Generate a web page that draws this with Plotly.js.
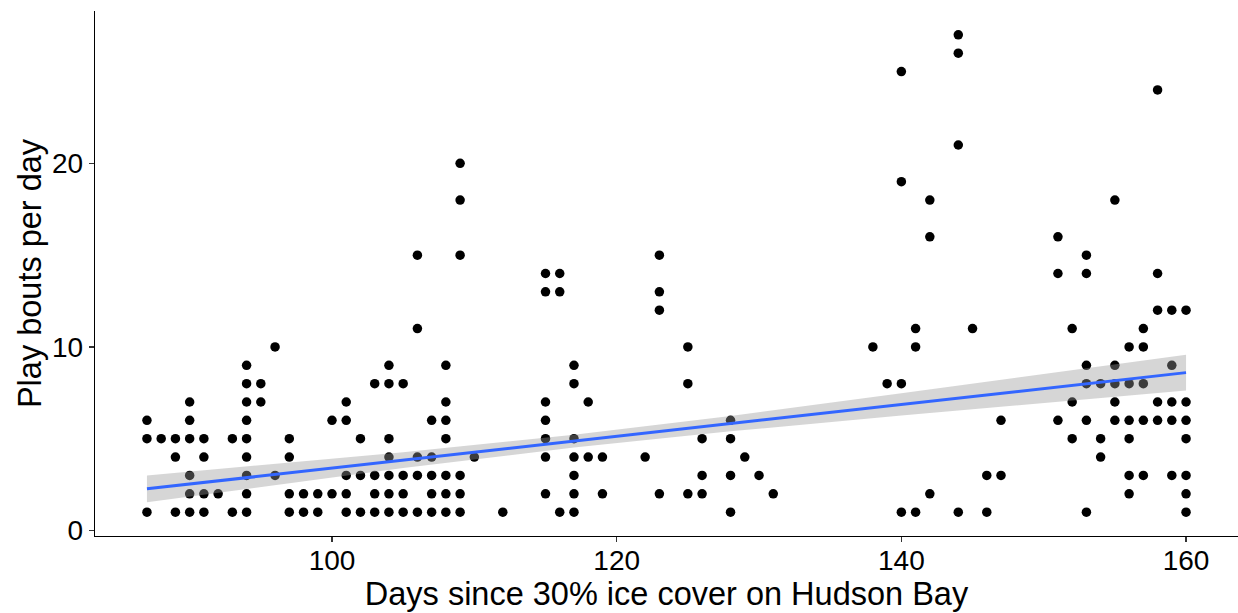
<!DOCTYPE html>
<html>
<head>
<meta charset="utf-8">
<script src="https://cdn.plot.ly/plotly-3.0.1.min.js"></script>
<style>
  html, body { margin: 0; padding: 0; background: #ffffff; }
  #chart { width: 1238px; height: 613px; }
</style>
</head>
<body>
<div id="chart"></div>
<script>
// Days since 30% ice cover on Hudson Bay, one entry per observed day
const days = [
  87, 87, 87,
  88,
  89, 89, 89,
  90, 90, 90, 90, 90, 90,
  91, 91, 91, 91,
  92,
  93, 93,
  94, 94, 94, 94, 94, 94, 94, 94, 94,
  95, 95,
  96, 96,
  97, 97, 97, 97,
  98, 98,
  99, 99,
  100, 100,
  101, 101, 101, 101, 101,
  102, 102, 102,
  103, 103, 103, 103,
  104, 104, 104, 104, 104, 104, 104,
  105, 105, 105, 105,
  106, 106, 106, 106, 106,
  107, 107, 107, 107, 107,
  108, 108, 108, 108, 108, 108, 108,
  109, 109, 109, 109, 109, 109,
  110,
  112,
  115, 115, 115, 115, 115, 115, 115,
  116, 116, 116,
  117, 117, 117, 117, 117, 117, 117,
  118, 118,
  119, 119,
  122,
  123, 123, 123, 123,
  125, 125, 125,
  126, 126, 126,
  128, 128, 128, 128,
  129,
  130,
  131,
  138,
  139,
  140, 140, 140, 140,
  141, 141, 141,
  142, 142, 142,
  144, 144, 144, 144,
  145,
  146, 146,
  147, 147,
  151, 151, 151,
  152, 152, 152,
  153, 153, 153, 153, 153, 153,
  154, 154, 154,
  155, 155, 155, 155, 155,
  156, 156, 156, 156, 156, 156,
  157, 157, 157, 157, 157,
  158, 158, 158, 158, 158,
  159, 159, 159, 159, 159,
  160, 160, 160, 160, 160, 160, 160
];

// Play bouts recorded on each of those days
const playBouts = [
  6, 5, 1,
  5,
  5, 4, 1,
  7, 6, 5, 3, 2, 1,
  5, 4, 2, 1,
  2,
  5, 1,
  9, 8, 7, 6, 5, 4, 3, 2, 1,
  8, 7,
  10, 3,
  5, 4, 2, 1,
  2, 1,
  2, 1,
  6, 2,
  7, 6, 3, 2, 1,
  5, 3, 1,
  8, 3, 2, 1,
  9, 8, 5, 4, 3, 2, 1,
  8, 3, 2, 1,
  15, 11, 4, 3, 1,
  6, 4, 3, 2, 1,
  9, 7, 6, 5, 3, 2, 1,
  20, 18, 15, 3, 2, 1,
  4,
  1,
  14, 13, 7, 6, 5, 4, 2,
  14, 13, 1,
  9, 8, 5, 4, 3, 2, 1,
  7, 4,
  4, 2,
  4,
  15, 13, 12, 2,
  10, 8, 2,
  5, 3, 2,
  6, 5, 3, 1,
  4,
  3,
  2,
  10,
  8,
  25, 19, 8, 1,
  11, 10, 1,
  18, 16, 2,
  27, 26, 21, 1,
  11,
  3, 1,
  6, 3,
  16, 14, 6,
  11, 7, 5,
  15, 14, 9, 8, 6, 1,
  8, 5, 4,
  18, 9, 8, 7, 6,
  10, 8, 6, 5, 3, 2,
  11, 10, 8, 6, 3,
  24, 14, 12, 7, 6,
  12, 9, 7, 6, 3,
  12, 7, 6, 5, 3, 2, 1
];

// Linear trend (fitted on the full set of observations) and its 95% band
const trendDays  = [87, 160];
const trendBouts = [2.27, 8.6];
const bandDays   = [87, 95, 105, 117, 128, 140, 150, 160];
const bandUpper  = [3.00, 3.55, 4.26, 5.22, 6.24, 7.47, 8.52, 9.58];
const bandLower  = [1.54, 2.37, 3.40, 4.52, 5.40, 6.27, 6.94, 7.62];

const xTicks = [100, 120, 140, 160];
const yTicks = [0, 10, 20];

const pointsTrace = {
  type: 'scatter', mode: 'markers',
  x: days, y: playBouts,
  marker: { color: '#000000', size: 9.5, line: { width: 0 } },
  hoverinfo: 'x+y', showlegend: false
};

// Band is drawn over the points, so points inside it read as grey
const bandTrace = {
  type: 'scatter', mode: 'lines',
  x: bandDays.concat(bandDays.slice().reverse()),
  y: bandUpper.concat(bandLower.slice().reverse()),
  fill: 'toself', fillcolor: 'rgba(153,153,153,0.4)',
  line: { width: 0 },
  hoverinfo: 'skip', showlegend: false
};

const lineTrace = {
  type: 'scatter', mode: 'lines',
  x: trendDays, y: trendBouts,
  line: { color: '#3366FF', width: 3 },
  hoverinfo: 'skip', showlegend: false
};

const font = 'Liberation Sans, Arial, sans-serif';

const layout = {
  width: 1238, height: 613,
  paper_bgcolor: '#ffffff', plot_bgcolor: '#ffffff',
  margin: { l: 95, r: 0, t: 11, b: 77 },
  showlegend: false,
  font: { family: font, color: '#000000' },
  xaxis: {
    range: [83.35, 163.65], autorange: false,
    tickvals: xTicks, ticktext: xTicks.map(String),
    showgrid: false, zeroline: false,
    showline: true, linecolor: '#000000', linewidth: 1.3,
    ticks: 'outside', ticklen: 5, tickwidth: 1.3, tickcolor: '#333333',
    ticklabelstandoff: -6,
    tickfont: { family: font, size: 28, color: '#000000' },
    title: { text: 'Days since 30% ice cover on Hudson Bay', font: { family: font, size: 32.5, color: '#000000' }, standoff: 4 },
    automargin: false
  },
  yaxis: {
    range: [-0.3, 28.3], autorange: false,
    tickvals: yTicks, ticktext: yTicks.map(String),
    showgrid: false, zeroline: false,
    showline: true, linecolor: '#000000', linewidth: 1.3,
    ticks: 'outside', ticklen: 5, tickwidth: 1.3, tickcolor: '#333333',
    tickfont: { family: font, size: 28, color: '#000000' },
    title: { text: 'Play bouts per day', font: { family: font, size: 32.5, color: '#000000' }, standoff: 0 },
    automargin: false
  }
};

Plotly.newPlot('chart', [pointsTrace, bandTrace, lineTrace], layout, { displayModeBar: false, staticPlot: true });
</script>
</body>
</html>
